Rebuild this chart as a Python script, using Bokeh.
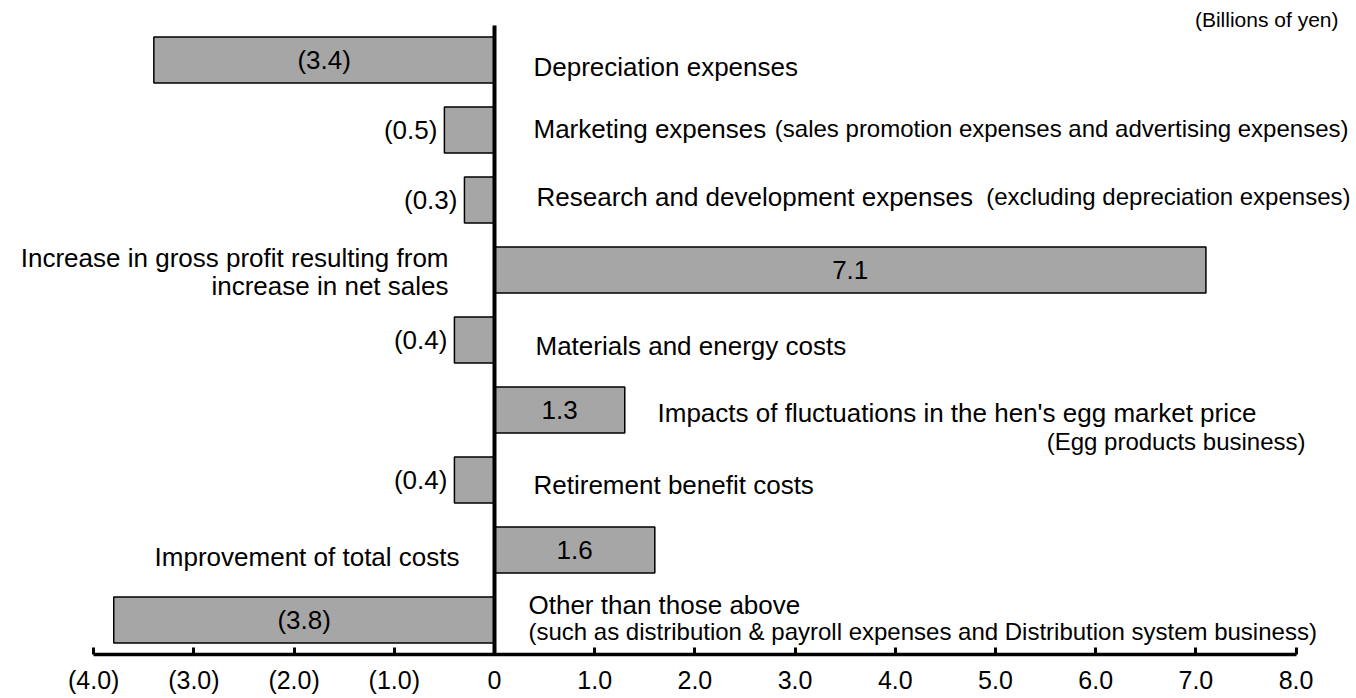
from bokeh.plotting import figure
from bokeh.models import Range1d, FixedTicker, ColumnDataSource
from bokeh.core.properties import value
from bokeh.embed import file_html
from bokeh.resources import INLINE

# ---------------- data ----------------
items = [
    "Depreciation expenses",
    "Marketing expenses",
    "Research and development expenses",
    "Increase in gross profit resulting from\nincrease in net sales",
    "Materials and energy costs",
    "Impacts of fluctuations in the hen's egg market price",
    "Retirement benefit costs",
    "Improvement of total costs",
    "Other than those above",
]
notes = [
    "",
    "(sales promotion expenses and advertising expenses)",
    "(excluding depreciation expenses)",
    "",
    "",
    "(Egg products business)",
    "",
    "",
    "(such as distribution & payroll expenses and Distribution system business)",
]
values = [-3.4, -0.5, -0.3, 7.1, -0.4, 1.3, -0.4, 1.6, -3.8]
x_ticks = [-4, -3, -2, -1, 0, 1, 2, 3, 4, 5, 6, 7, 8]
x_tick_labels = ["(4.0)", "(3.0)", "(2.0)", "(1.0)", "0", "1.0", "2.0", "3.0",
                 "4.0", "5.0", "6.0", "7.0", "8.0"]
unit_label = "(Billions of yen)"

# ---------------- layout helpers (page pixel -> data) ----------------
PX_PER_UNIT = 100.2
ZERO_X = 494.0      # page x of value 0
ROW0_Y = 59.5       # page y of first bar centre
ROW_STEP = 70.0
PAGE_OFF = 0
FRAME_W, FRAME_H = 1356, 654
TEXT_SHIFT = -7     # empirical baseline correction


def xd(px):
    return (px - ZERO_X) / PX_PER_UNIT


def yd(py):
    return (py - ROW0_Y) / ROW_STEP


FONT = value("Liberation Sans")

p = figure(
    frame_width=FRAME_W, frame_height=FRAME_H,
    x_range=Range1d(xd(PAGE_OFF), xd(PAGE_OFF + FRAME_W)),
    y_range=Range1d(yd(PAGE_OFF + FRAME_H), yd(PAGE_OFF)),
    output_backend="svg", toolbar_location=None,
    min_border=0, x_axis_location="below", y_axis_location=None,
)
p.outline_line_color = None
p.xgrid.visible = False
p.ygrid.visible = False
p.background_fill_color = "white"
p.border_fill_color = "white"

ax = p.xaxis[0]
ax.ticker = FixedTicker(ticks=x_ticks)
ax.major_label_overrides = {t: l for t, l in zip(x_ticks, x_tick_labels)}
ax.bounds = (x_ticks[0], x_ticks[-1])
ax.axis_line_width = 3.5
ax.axis_line_color = "black"
ax.major_tick_in = 7
ax.major_tick_out = 0
ax.major_tick_line_width = 3
ax.major_tick_line_color = "black"
ax.minor_tick_line_color = None
ax.major_label_standoff = 11
ax.major_label_text_font = "Liberation Sans"
ax.major_label_text_font_size = "25px"
ax.major_label_text_color = "black"

rows = list(range(len(items)))
src = ColumnDataSource(dict(y=rows, right=values, left=[0] * len(values)))
p.hbar(y="y", left="left", right="right", height=46 / ROW_STEP, source=src,
       fill_color="#a6a6a6", line_color="black", line_width=1.5)

# zero line
p.segment(x0=[0], y0=[yd(25)], x1=[0], y1=[yd(PAGE_OFF + FRAME_H)],
          line_color="black", line_width=4)

# value labels
in_x, in_y, in_t = [], [], []
out_x, out_y, out_t = [], [], []
for i, v in enumerate(values):
    txt = f"({abs(v):.1f})" if v < 0 else f"{v:.1f}"
    if abs(v) >= 1.0:
        in_x.append(v / 2); in_y.append(i); in_t.append(txt)
    else:
        out_x.append(v - 7 / PX_PER_UNIT); out_y.append(i); out_t.append(txt)
p.text(x=in_x, y=in_y, text=in_t, text_font=FONT, text_font_size="26px",
       text_align="center", text_baseline="middle", text_color="black")
p.text(x=out_x, y=out_y, text=out_t, text_font=FONT, text_font_size="26px",
       text_align="right", text_baseline="middle", text_color="black")

# category labels: (side, anchor page x, baseline page y of first line)
label_pos = {
    0: ("left", 533, 73),
    1: ("left", 533, 135),
    2: ("left", 536, 203),
    3: ("right", 448, 264),
    4: ("left", 535, 352),
    5: ("left", 657, 419),
    6: ("left", 533, 491),
    7: ("right", 459, 563),
    8: ("left", 528, 611),
}
note_pos = {
    1: ("right", 1348, 135),
    2: ("right", 1350, 203),
    5: ("right", 1305, 448),
    8: ("left", 528, 638),
}
LINE_H = 28
for i, name in enumerate(items):
    align, px, py = label_pos[i]
    for k, line in enumerate(name.split("\n")):
        p.text(x=[xd(px)], y=[yd(py + TEXT_SHIFT + k * LINE_H)], text=[line],
               text_font=FONT, text_font_size="26px", text_align=align,
               text_baseline="alphabetic", text_color="black")
    if notes[i]:
        align, px, py = note_pos[i]
        p.text(x=[xd(px)], y=[yd(py + TEXT_SHIFT)], text=[notes[i]], text_font=FONT,
               text_font_size="24px", text_align=align,
               text_baseline="alphabetic", text_color="black")

p.text(x=[xd(1338)], y=[yd(19)], text=[unit_label], text_font=FONT,
       text_font_size="21px", text_align="right", text_baseline="alphabetic",
       text_color="black")

open("out.html", "w").write(file_html(p, INLINE))
